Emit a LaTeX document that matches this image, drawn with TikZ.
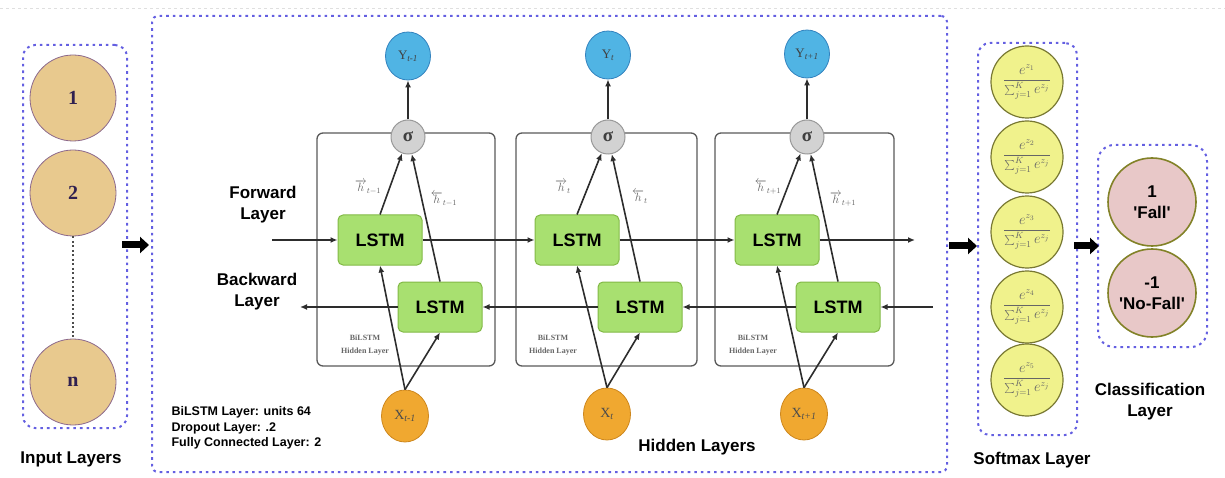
\documentclass[tikz,border=0pt]{standalone}
\usepackage{fontspec}
\setmainfont{Liberation Sans}
\newfontfamily\serifface{Liberation Serif}
\usetikzlibrary{arrows.meta,shapes.geometric}

\definecolor{dotblue}{RGB}{100,95,225}
\definecolor{tanfill}{RGB}{232,201,142}
\definecolor{tanline}{RGB}{140,105,140}
\definecolor{numtext}{RGB}{48,32,80}
\definecolor{yblue}{RGB}{80,180,228}
\definecolor{yline}{RGB}{50,130,190}
\definecolor{xorange}{RGB}{240,168,48}
\definecolor{xline}{RGB}{205,135,30}
\definecolor{lstmfill}{RGB}{168,224,112}
\definecolor{lstmline}{RGB}{130,185,70}
\definecolor{softfill}{RGB}{240,242,140}
\definecolor{softline}{RGB}{120,120,50}
\definecolor{clsfill}{RGB}{232,200,200}
\definecolor{clsline}{RGB}{130,130,40}
\definecolor{wire}{RGB}{45,45,45}

\tikzset{
  layerbox/.style={draw=dotblue, line width=2pt, dash pattern=on 2.6pt off 4pt,
    rounded corners=12pt},
  cellbox/.style={draw=gray!70!black, line width=1.3pt, rounded corners=6pt},
  incircle/.style={circle, minimum size=86pt, inner sep=0pt, fill=tanfill,
    draw=tanline, line width=0.8pt, text=numtext,
    font=\serifface\bfseries\fontsize{20}{20}\selectfont},
  outnode/.style={ellipse, minimum width=45pt, minimum height=48pt, inner sep=0pt,
    fill=yblue, draw=yline, line width=0.8pt, text=black!75,
    font=\serifface\fontsize{13}{13}\selectfont},
  innode/.style={ellipse, minimum width=47pt, minimum height=52pt, inner sep=0pt,
    fill=xorange, draw=xline, line width=0.8pt, text=black!70,
    font=\serifface\fontsize{14}{14}\selectfont},
  sigmanode/.style={circle, minimum size=34pt, inner sep=0pt, fill=gray!35,
    draw=gray!80, line width=1pt, text=black!75,
    font=\serifface\bfseries\fontsize{19}{19}\selectfont},
  lstmbox/.style={rectangle, rounded corners=5pt, minimum width=84pt,
    minimum height=50pt, fill=lstmfill, draw=lstmline, line width=1pt,
    font=\bfseries\fontsize{18}{18}\selectfont},
  softnode/.style={circle, minimum size=72pt, inner sep=0pt, fill=softfill,
    draw=softline, line width=1.2pt, text=black!60,
    font=\fontsize{13.5}{13.5}\selectfont},
  clsnode/.style={circle, minimum size=88pt, inner sep=0pt, fill=clsfill,
    draw=clsline, line width=1.6pt, align=center,
    font=\bfseries\fontsize{17}{21}\selectfont},
  arr/.style={draw=wire, line width=1.6pt, -{Latex[length=7pt,width=6pt]}},
  bigarrow/.style={line width=7pt, -{Triangle[length=9pt,width=16pt]}},
  title/.style={font=\bfseries\fontsize{17}{21}\selectfont, align=center},
  hlabel/.style={text=black!60, font=\fontsize{12}{12}\selectfont},
  celltext/.style={text=black!60, align=center,
    font=\serifface\bfseries\fontsize{8}{13.5}\selectfont},
}

\begin{document}
\begin{tikzpicture}[x=1pt,y=-1pt]
\useasboundingbox (0,0) rectangle (1225,478);

% faint rule along the top edge
\draw[gray!25, dashed, line width=0.8pt] (0,8) -- (1225,8);

% ---------- layer frames ----------
\node[layerbox, minimum width=104pt, minimum height=383pt] (inbox) at (75,236.5) {};
\node[layerbox, rounded corners=6pt, minimum width=795pt, minimum height=456pt] (hidbox) at (549.5,244) {};
\node[layerbox, minimum width=99pt, minimum height=392pt] (softbox) at (1027.5,239) {};
\node[layerbox, rounded corners=16pt, minimum width=109pt, minimum height=202pt] (clsbox) at (1152.5,246) {};

% ---------- input layer ----------
\node[incircle] (i1) at (73,98) {1};
\node[incircle] (i2) at (73,193) {2};
\node[incircle] (in) at (73,382) {n};
\draw[black!70, line width=2.2pt, dash pattern=on 2pt off 2.5pt] (i2.south) -- (in.north);
\node[title] (inlab) at (71,459) {Input Layers};

% ---------- BiLSTM cells ----------
\draw[cellbox] (317,133) rectangle (495,366);
\draw[cellbox] (516,133) rectangle (697,366);
\draw[cellbox] (715,133) rectangle (894,366);

\node[celltext] (c1) at (365,345) {BiLSTM\\Hidden Layer};
\node[celltext] (c2) at (553,345) {BiLSTM\\Hidden Layer};
\node[celltext] (c3) at (753,345) {BiLSTM\\Hidden Layer};

\node[sigmanode] (s1) at (408,137) {σ};
\node[sigmanode] (s2) at (608,137) {σ};
\node[sigmanode] (s3) at (807,137) {σ};

\node[outnode] (y1) at (408,56) {Y\textsubscript{\itshape t-1}};
\node[outnode] (y2) at (608,55) {Y\textsubscript{\itshape t}};
\node[outnode] (y3) at (807,54) {Y\textsubscript{\itshape t+1}};

\node[lstmbox] (f1) at (380,240) {LSTM};
\node[lstmbox] (f2) at (577,240) {LSTM};
\node[lstmbox] (f3) at (777,240) {LSTM};

\node[lstmbox] (b1) at (440,307) {LSTM};
\node[lstmbox] (b2) at (640,307) {LSTM};
\node[lstmbox] (b3) at (838,307) {LSTM};

\node[innode] (x1) at (405,416) {X\textsubscript{\itshape t-1}};
\node[innode] (x2) at (607,414) {X\textsubscript{\itshape t}};
\node[innode] (x3) at (804,414) {X\textsubscript{\itshape t+1}};

% hidden-state labels
\node[hlabel] (h1f) at (368,187) {$\overrightarrow{h}_{t-1}$};
\node[hlabel] (h1b) at (444,199) {$\overleftarrow{h}_{t-1}$};
\node[hlabel] (h2f) at (563,187) {$\overrightarrow{h}_{t}$};
\node[hlabel] (h2b) at (640,197) {$\overleftarrow{h}_{t}$};
\node[hlabel] (h3f) at (768,187) {$\overleftarrow{h}_{t+1}$};
\node[hlabel] (h3b) at (843,199) {$\overrightarrow{h}_{t+1}$};

% outputs
\foreach \c in {1,2,3}{
  \draw[arr] (s\c) -- (y\c);
  \draw[arr] (f\c.north) -- (s\c);
  \draw[arr] (b\c.north) -- (s\c);
  \draw[arr] (x\c.north) -- (f\c.south);
  \draw[arr] (x\c.north) -- (b\c.south);
}

% forward chain
\coordinate (fin) at (272,240);
\coordinate (fout) at (915,240);
\draw[arr] (fin) -- (f1);
\draw[arr] (f1) -- (f2);
\draw[arr] (f2) -- (f3);
\draw[arr] (f3) -- (fout);

% backward chain
\coordinate (bin) at (933,307);
\coordinate (bout) at (300,307);
\draw[arr] (bin) -- (b3);
\draw[arr] (b3) -- (b2);
\draw[arr] (b2) -- (b1);
\draw[arr] (b1) -- (bout);

\node[title] (fwdlab) at (263,205) {Forward\\Layer};
\node[title] (bwdlab) at (257,292) {Backward\\Layer};

\node[anchor=west, align=left, font=\bfseries\fontsize{12.5}{15.5}\selectfont] (params)
  at (168,428) {BiLSTM Layer: units 64\\Dropout Layer: .2\\Fully Connected Layer: 2};

\node[title] (hidlab) at (697,447) {Hidden Layers};

% ---------- softmax layer ----------
\foreach \k/\yy in {1/82,2/157,3/232,4/307,5/380}{
  \node[softnode] (sm\k) at (1027,\yy)
    {$\displaystyle\frac{e^{z_{\k}}}{\textstyle\sum_{j=1}^{K} e^{z_j}}$};
}
\node[title] (smlab) at (1032,460) {Softmax Layer};

% ---------- classification layer ----------
\node[clsnode] (fall) at (1152,202) {1\\\textquotesingle Fall\textquotesingle};
\node[clsnode] (nofall) at (1152,293) {-1\\\textquotesingle No-Fall\textquotesingle};
\node[title] (clslab) at (1150,402) {Classification\\Layer};

% ---------- flow between layers ----------
\coordinate (a1s) at (122,245);
\coordinate (a1e) at (149,245);
\coordinate (a2s) at (949,246);
\coordinate (a2e) at (977,246);
\coordinate (a3s) at (1074,246);
\coordinate (a3e) at (1099,246);
\draw[bigarrow] (a1s) -- (a1e);
\draw[bigarrow] (a2s) -- (a2e);
\draw[bigarrow] (a3s) -- (a3e);

\end{tikzpicture}
\end{document}
